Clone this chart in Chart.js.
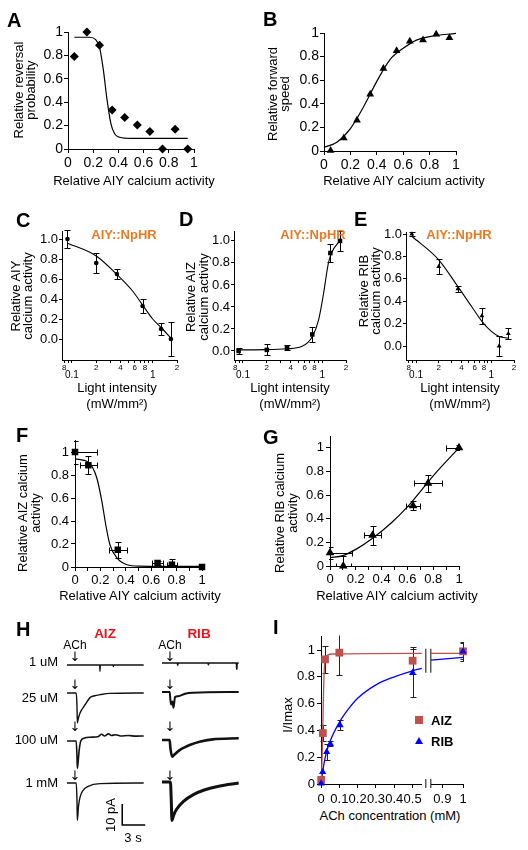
<!DOCTYPE html>
<html>
<head>
<meta charset="utf-8">
<script src="https://cdn.jsdelivr.net/npm/chart.js@4.4.0/dist/chart.umd.min.js"></script>
<style>
  html, body { margin: 0; padding: 0; background: #fff; }
  #fig { position: relative; width: 528px; height: 850px; overflow: hidden;
         font-family: 'Liberation Sans', Arial, Helvetica, sans-serif; color: #000; }
  #fig canvas { position: absolute; }
  .t { position: absolute; white-space: nowrap; line-height: 1; }
</style>
</head>
<body>
<div id="fig"></div>
<script>
// ---------- A / B : behaviour vs. relative AIY calcium activity
const aiyLevels = [0.05, 0.15, 0.25, 0.35, 0.45, 0.55, 0.65, 0.75, 0.85, 0.95];
const reversalProb = [0.79, 1.0, 0.886, 0.334, 0.269, 0.206, 0.149, 0.0, 0.169, 0.0];
const reversalFitX = [0.05, 0.17, 0.22, 0.25, 0.28, 0.31, 0.34, 0.37, 0.41, 0.5, 0.95];
const reversalFitY = [0.955, 0.955, 0.935, 0.87, 0.68, 0.42, 0.22, 0.13, 0.10, 0.09, 0.09];
const forwardSpeed = [0.005, 0.11, 0.26, 0.48, 0.70, 0.85, 0.93, 0.94, 0.99, 0.96];
const forwardFitX = [0, 0.1, 0.2, 0.3, 0.4, 0.5, 0.6, 0.7, 0.8, 1.0];
const forwardFitY = [0.03, 0.077, 0.19, 0.375, 0.59, 0.775, 0.87, 0.94, 0.97, 0.997];

// ---------- C / D / E : AIY::NpHR light intensity series (mW/mm2)
const lightLevels = [0.088, 0.2, 0.36, 0.75, 1.27, 1.68];
const aiyNpHR = [1.0, 0.76, 0.65, 0.33, 0.10, 0.0];
const aiyNpHRErr = [0.09, 0.1, 0.05, 0.07, 0.06, 0.17];
const aiyFitX = [0.087, 0.2, 0.36, 0.57, 0.75, 1.0, 1.29, 1.72];
const aiyFitY = [0.96, 0.83, 0.645, 0.475, 0.34, 0.2, 0.11, 0.0];
const aizNpHR = [0.0, 0.01, 0.03, 0.15, 0.89, 1.0];
const aizNpHRErr = [0.03, 0.05, 0.02, 0.07, 0.08, 0.09];
const aizFitX = [0.088, 0.2, 0.36, 0.55, 0.75, 0.9, 1.04, 1.2, 1.33, 1.66];
const aizFitY = [0.01, 0.012, 0.02, 0.04, 0.13, 0.28, 0.52, 0.80, 0.90, 1.0];
const ribNpHR = [1.0, 0.71, 0.51, 0.27, 0.0, 0.11];
const ribNpHRErr = [0.02, 0.07, 0.03, 0.07, 0.09, 0.05];
const ribFitX = [0.088, 0.2, 0.36, 0.55, 0.75, 1.0, 1.27, 1.68];
const ribFitY = [0.98, 0.77, 0.53, 0.35, 0.22, 0.13, 0.085, 0.07];
const lightTicks = [0.08, 0.09, 0.1, 0.2, 0.3, 0.4, 0.5, 0.6, 0.7, 0.8, 0.9, 1, 2];
const lightTickText = ['8', '', '0.1', '2', '', '4', '', '6', '', '8', '', '1', '2'];

// ---------- F / G : downstream activity vs. AIY activity
const aiyActF = [0, 0.105, 0.337, 0.65, 0.763, 1.0];
const aiyActFErr = [0.17, 0.066, 0.07, 0.045, 0.04, 0];
const aizAct = [1.0, 0.885, 0.15, 0.035, 0.02, 0.0];
const aizActErr = [0.1, 0.08, 0.07, 0.02, 0.05, 0];
const aizActFitX = [0, 0.105, 0.17, 0.21, 0.245, 0.276, 0.33, 0.41, 0.51, 1.0];
const aizActFitY = [0.94, 0.91, 0.78, 0.58, 0.35, 0.19, 0.08, 0.02, 0.008, 0.005];
const aiyActG = [0, 0.103, 0.33, 0.644, 0.76, 1.0];
const aiyActGErr = [0.167, 0.06, 0.067, 0.055, 0.107, 0.103];
const ribAct = [0.113, 0.0, 0.26, 0.51, 0.70, 1.0];
const ribActErr = [0.05, 0.085, 0.08, 0.04, 0.07, 0.02];
const ribActFitX = [0, 0.1, 0.21, 0.33, 0.47, 0.6, 0.7, 0.83, 1.0];
const ribActFitY = [0.07, 0.088, 0.147, 0.235, 0.36, 0.50, 0.63, 0.80, 1.0];

// ---------- H : ACh evoked currents (time s, current pA)
const aiz1uM_t = [0, 4.25, 4.3, 4.35, 6.0, 6.05, 6.1, 10];
const aiz1uM_i = [0, 0, -3, 0, 0, -0.8, 0, 0];
const aiz25uM_t = [0, 1.2, 1.3, 1.35, 1.45, 1.7, 2.0, 2.35, 3.0, 3.6, 4.3, 5.6, 10];
const aiz25uM_i = [0, 0, -6, -14.3, -12.5, -9.5, -7.5, -5.6, -2.2, -1.3, -0.8, -0.2, 0];
const aiz100uM_t = [0, 1.2, 1.3, 1.35, 1.45, 1.6, 1.8, 2.2, 3.0, 4.0, 4.5, 4.9, 5.4, 5.8, 6.3, 7.0, 8.0, 9.0, 10];
const aiz100uM_i = [0, 0, -7, -13, -10, -4, 0, 1.3, 1.8, 2.0, 3.2, 2.4, 3.4, 2.6, 3.0, 2.4, 2.6, 2.3, 2.4];
const aiz1mM_t = [0, 1.2, 1.3, 1.35, 1.5, 1.7, 2.1, 2.75, 4.3, 10];
const aiz1mM_i = [0, 0, -8, -17.8, -11, -6.7, -3.5, -1.6, -0.3, 0];
const rib1uM_t = [0, 2, 2.05, 2.1, 4, 6, 6.05, 6.1, 8, 9.7, 9.75, 9.8, 10];
const rib1uM_i = [0, 0, -1, 0, 0, 0, -0.8, 0, 0, 0, -3, 0, 0];
const rib25uM_t = [0, 1.0, 1.1, 1.2, 1.35, 1.5, 1.7, 2.1, 3.0, 4, 10];
const rib25uM_i = [0, 0, -4, -6, -4.5, -7.5, -2.4, -2.0, -0.8, -0.3, 0];
const rib100uM_t = [0, 1.0, 1.1, 1.35, 1.6, 2.3, 3.0, 3.6, 4.9, 6.6, 10];
const rib100uM_i = [0, 0, -4, -8, -7, -4.8, -3.4, -2.4, -0.8, 0.3, 0.8];
const rib1mM_t = [0, 1.1, 1.2, 1.3, 1.5, 1.9, 2.8, 4.1, 5.6, 7.4, 10];
const rib1mM_i = [0, 0, -8, -18.3, -16, -13, -9.2, -6, -3.7, -2, -0.5];
const scaleBarT = [7.2, 7.2, 10.2];   // 3 s
const scaleBarI = [-10, -20, -20];    // 10 pA

// ---------- I : dose response (ACh mM, I/Imax)
const aizConc = [0.001, 0.01, 0.022, 0.1, 0.5, 1.0];
const aizIrel = [0.03, 0.38, 0.93, 0.98, 0.92, 0.99];
const aizIrelErr = [0.03, 0.06, 0.10, 0.17, 0.10, 0.06];
const ribConc = [0.001, 0.009, 0.031, 0.051, 0.104, 0.5, 1.0];
const ribIrel = [0.005, 0.09, 0.24, 0.30, 0.44, 0.83, 0.99];
const ribIrelErr = [0, 0, 0.06, 0.02, 0.04, 0.18, 0.07];
const aizDoseFitX = [0, 0.004, 0.008, 0.011, 0.015, 0.02, 0.03, 0.06, 0.55, 0.845, 1.0];
const aizDoseFitY = [0, 0.1, 0.3, 0.5, 0.75, 0.9, 0.955, 0.97, 0.975, 0.975, 0.975];
const ribDoseFitX = [0, 0.01, 0.025, 0.05, 0.1, 0.15, 0.2, 0.3, 0.4, 0.5, 0.55, 0.845, 1.0];
const ribDoseFitY = [0, 0.1, 0.21, 0.32, 0.46, 0.56, 0.64, 0.74, 0.80, 0.845, 0.862, 0.925, 0.945];

// ------------------------------------------------------------------
Chart.defaults.font.family = "'Liberation Sans', Arial, Helvetica, sans-serif";
Chart.defaults.color = '#000';
Chart.defaults.animation = false;
Chart.defaults.responsive = false;
Chart.defaults.events = [];
Chart.defaults.plugins.legend.display = false;
Chart.defaults.plugins.tooltip.enabled = false;

// error bars drawn under the markers, clipped to the plot area
Chart.register({
  id: 'errorBars',
  beforeDatasetsDraw(chart) {
    const { ctx, chartArea: a } = chart;
    ctx.save();
    ctx.beginPath();
    ctx.rect(a.left - 1, a.top - 1, a.right - a.left + 2, a.bottom - a.top + 2);
    ctx.clip();
    chart.data.datasets.forEach((ds, di) => {
      if (!ds.errY && !ds.errX) return;
      const meta = chart.getDatasetMeta(di);
      const xs = chart.scales[meta.xAxisID], ys = chart.scales[meta.yAxisID];
      const cap = ds.errCap || 3;
      ctx.strokeStyle = ds.errColor || '#000';
      ctx.lineWidth = 1;
      ctx.beginPath();
      meta.data.forEach((el, i) => {
        const p = ds.data[i];
        const px = Math.round(el.x) + 0.5, py = Math.round(el.y) + 0.5;
        const ey = ds.errY ? ds.errY[i] : 0, ex = ds.errX ? ds.errX[i] : 0;
        if (ey) {
          const y1 = Math.round(ys.getPixelForValue(p.y - ey)) + 0.5;
          const y2 = Math.round(ys.getPixelForValue(p.y + ey)) + 0.5;
          ctx.moveTo(px, y1); ctx.lineTo(px, y2);
          ctx.moveTo(px - cap, y1); ctx.lineTo(px + cap, y1);
          ctx.moveTo(px - cap, y2); ctx.lineTo(px + cap, y2);
        }
        if (ex) {
          const x1 = Math.round(xs.getPixelForValue(p.x - ex)) + 0.5;
          const x2 = Math.round(xs.getPixelForValue(p.x + ex)) + 0.5;
          ctx.moveTo(x1, py); ctx.lineTo(x2, py);
          ctx.moveTo(x1, py - cap); ctx.lineTo(x1, py + cap);
          ctx.moveTo(x2, py - cap); ctx.lineTo(x2, py + cap);
        }
      });
      ctx.stroke();
    });
    ctx.restore();
  }
});

const fig = document.getElementById('fig');

// put a chart so that its plot area lands on `area` (page px)
function place(box, area, cfg, plugins) {
  const cv = document.createElement('canvas');
  cv.width = box.w; cv.height = box.h;
  cv.style.left = box.x + 'px'; cv.style.top = box.y + 'px';
  fig.appendChild(cv);
  const sx = cfg.options.scales.x, sy = cfg.options.scales.y;
  const showX = sx.display !== false, showY = sy.display !== false;
  cfg.options.layout = { padding: {
    left: showY ? 0 : area.l - box.x,
    top: area.t - box.y,
    right: box.x + box.w - area.r,
    bottom: showX ? 0 : box.y + box.h - area.b } };
  if (showX) sx.afterFit = s => { s.height = box.y + box.h - area.b; };
  if (showY) sy.afterFit = s => { s.width = area.l - box.x; };
  cfg.plugins = plugins || [];
  return new Chart(cv, cfg);
}

const fmt = v => String(+v.toFixed(2));
function axis(o) {
  const ax = {
    type: o.type || 'linear', min: o.min, max: o.max,
    border: { color: '#000', width: 1 },
    grid: { drawOnChartArea: false, color: '#000', tickLength: o.tl || 4, lineWidth: 1 },
    ticks: { color: '#000', font: o.font || { size: 14 }, padding: o.pad === undefined ? 2 : o.pad,
             autoSkip: false, maxRotation: 0, minRotation: 0, callback: o.cb || fmt },
    title: { display: false }
  };
  if (o.ticks) ax.afterBuildTicks = s => { s.ticks = o.ticks.map(v => ({ value: v })); };
  return ax;
}

const pts = (xs, ys) => xs.map((x, i) => ({ x, y: ys[i] }));
const ptsIn = (xs, ys, lo, hi) => pts(xs, ys).filter(p => p.x >= lo && p.x <= hi);
const fit = (data, color, w) => ({ data, showLine: true, pointRadius: 0, borderColor: color || '#000',
  borderWidth: w || 1.2, cubicInterpolationMode: 'monotone', clip: false, order: 3 });
const marks = (data, style, r, extra) => Object.assign({ data, pointStyle: style, pointRadius: r,
  backgroundColor: '#000', borderColor: '#000', borderWidth: 0, clip: false, order: 0 }, extra || {});

const unitTicks = [0, 0.2, 0.4, 0.6, 0.8, 1];
const tenthTicks = [0, 0.1, 0.2, 0.3, 0.4, 0.5, 0.6, 0.7, 0.8, 0.9, 1];
const evenLabel = v => (Math.round(v * 10) % 2 === 0 ? fmt(v) : '');

// ---- A
place({ x: 0, y: 20, w: 205, h: 172 }, { l: 68, t: 32, r: 194, b: 149 }, {
  type: 'scatter',
  data: { datasets: [
    fit(pts(reversalFitX, reversalFitY)),
    marks(pts(aiyLevels, reversalProb), 'rectRot', 4.5)
  ] },
  options: { scales: {
    x: axis({ min: 0, max: 1, ticks: unitTicks }),
    y: axis({ min: 0, max: 1, ticks: unitTicks, pad: 1 })
  } }
});

// ---- B
place({ x: 264, y: 20, w: 210, h: 172 }, { l: 324, t: 33, r: 456, b: 151 }, {
  type: 'scatter',
  data: { datasets: [
    fit(pts(forwardFitX, forwardFitY)),
    marks(pts(aiyLevels, forwardSpeed), 'triangle', 4.5)
  ] },
  options: { scales: {
    x: axis({ min: 0, max: 1, ticks: unitTicks }),
    y: axis({ min: 0, max: 1, ticks: unitTicks, pad: 1 })
  } }
});

// ---- C / D / E (log light axis)
function lightAxis(min, max) {
  return axis({
    type: 'logarithmic', min, max, ticks: lightTicks, tl: 3, pad: 0,
    cb: (v, i) => (v === 0.1 || v === 1) ? ['', lightTickText[i]] : lightTickText[i],
    font: c => (c.tick && (c.tick.value === 0.1 || c.tick.value === 1)) ? { size: 10, lineHeight: 0.8 } : { size: 8, lineHeight: 1.2 }
  });
}
function npHR(box, area, ymin, ymax, xmin, xs, ys, errs, fx, fy, style, r) {
  place(box, area, {
    type: 'scatter',
    data: { datasets: [
      fit(pts(fx, fy), '#000', 1.1),
      marks(pts(xs, ys), style, r, { errY: errs, errCap: 3 })
    ] },
    options: { scales: {
      x: lightAxis(xmin, 2),
      y: axis({ min: ymin, max: ymax, ticks: unitTicks, tl: 3, pad: 1, font: { size: 13 }, cb: v => v.toFixed(1) })
    } }
  });
}
npHR({ x: 0, y: 215, w: 190, h: 200 }, { l: 62, t: 231, r: 177, b: 360 }, -0.21, 1.08, 0.0753,
  lightLevels, aiyNpHR, aiyNpHRErr, aiyFitX, aiyFitY, 'circle', 2.3);
npHR({ x: 175, y: 215, w: 180, h: 200 }, { l: 234, t: 231, r: 346, b: 360 }, -0.082, 1.09, 0.077,
  lightLevels, aizNpHR, aizNpHRErr, aizFitX, aizFitY, 'rect', 3.2);
npHR({ x: 350, y: 215, w: 178, h: 200 }, { l: 406, t: 232, r: 514, b: 360 }, -0.125, 1.018, 0.0736,
  lightLevels, ribNpHR, ribNpHRErr, ribFitX, ribFitY, 'triangle', 2.8);

// ---- F / G
function transfer(box, area, xs, xerr, ys, yerr, fx, fy, style, r) {
  place(box, area, {
    type: 'scatter',
    data: { datasets: [
      fit(pts(fx, fy)),
      marks(pts(xs, ys), style, r, { errY: yerr, errX: xerr, errCap: 3 })
    ] },
    options: { scales: {
      x: axis({ min: 0, max: 1, ticks: tenthTicks, cb: evenLabel, font: { size: 13 }, pad: 2 }),
      y: axis({ min: 0, max: 1.1, ticks: unitTicks, font: { size: 13 }, pad: 2 })
    } }
  });
}
transfer({ x: 0, y: 425, w: 215, h: 180 }, { l: 75, t: 440.5, r: 202, b: 567 },
  aiyActF, aiyActFErr, aizAct, aizActErr, aizActFitX, aizActFitY, 'rect', 4.6);
transfer({ x: 264, y: 425, w: 210, h: 180 }, { l: 330, t: 436, r: 459, b: 566 },
  aiyActG, aiyActGErr, ribAct, ribActErr, ribActFitX, ribActFitY, 'triangle', 5);

// ---- H traces
const PX_PER_S = 7.67, PX_PER_PA = 2.1;
function trace(left, baseY, t, cur, bw, extra) {
  const w = 80, h = 56, top = Math.round(baseY - 4 * PX_PER_PA);
  const yMax = (baseY - top) / PX_PER_PA, yMin = yMax - h / PX_PER_PA;
  const ds = [{ data: pts(t, cur), showLine: true, pointRadius: 0, borderColor: '#111', borderWidth: bw,
                borderJoinStyle: 'round', cubicInterpolationMode: 'monotone', clip: false }];
  if (extra) ds.push(extra);
  place({ x: left, y: top, w, h }, { l: left, t: top, r: left + w, b: top + h }, {
    type: 'scatter', data: { datasets: ds },
    options: { scales: {
      x: { type: 'linear', display: false, min: 0, max: w / PX_PER_S },
      y: { type: 'linear', display: false, min: yMin, max: yMax }
    } }
  });
}
const scaleBar = { data: pts(scaleBarT, scaleBarI), showLine: true, pointRadius: 0, borderColor: '#000',
                   borderWidth: 1.5, tension: 0, clip: false };
trace(67, 665, aiz1uM_t, aiz1uM_i, 1.3);
trace(67, 693, aiz25uM_t, aiz25uM_i, 1.4);
trace(67, 741, aiz100uM_t, aiz100uM_i, 1.6);
trace(67, 783, aiz1mM_t, aiz1mM_i, 1.4, scaleBar);
trace(162, 663, rib1uM_t, rib1uM_i, 1.6);
trace(162, 692, rib25uM_t, rib25uM_i, 2);
trace(162, 740, rib100uM_t, rib100uM_i, 2.6);
trace(162, 782, rib1mM_t, rib1mM_i, 3);

// ---- I dose response, broken x axis (0-0.55 | 0.845-1)
const breakMarks = {
  id: 'breakMarks',
  afterDraw(chart) {
    const { ctx, chartArea: a, scales: { y } } = chart;
    ctx.save();
    ctx.strokeStyle = '#333'; ctx.lineWidth = 1.2;
    [a.right + 4, a.right + 9].forEach(x => {
      ctx.beginPath();
      ctx.moveTo(x, y.getPixelForValue(1.01)); ctx.lineTo(x, y.getPixelForValue(0.83));
      ctx.moveTo(x, a.bottom - 5); ctx.lineTo(x, a.bottom + 4);
      ctx.stroke();
    });
    ctx.restore();
  }
};
const RED = '#c0504d', BLUE = '#0000ff';
function doseSets(lo, hi) {
  return [
    fit(ptsIn(aizDoseFitX, aizDoseFitY, lo, hi), RED, 1.3),
    fit(ptsIn(ribDoseFitX, ribDoseFitY, lo, hi), BLUE, 1.3),
    marks(ptsIn(aizConc, aizIrel, lo, hi), 'rect', 5.5, { backgroundColor: RED, borderColor: RED, order: 1,
      errY: aizIrelErr.filter((e, i) => aizConc[i] >= lo && aizConc[i] <= hi), errColor: '#222', errCap: 3 }),
    marks(ptsIn(ribConc, ribIrel, lo, hi), 'triangle', 4.2, { backgroundColor: BLUE, borderColor: BLUE, order: 0,
      errY: ribIrelErr.filter((e, i) => ribConc[i] >= lo && ribConc[i] <= hi), errColor: '#222', errCap: 3 })
  ];
}
place({ x: 264, y: 625, w: 175, h: 180 }, { l: 321, t: 636.6, r: 421.8, b: 784 }, {
  type: 'scatter',
  data: { datasets: doseSets(0, 0.55) },
  options: { scales: {
    x: axis({ min: 0, max: 0.55, ticks: [0, 0.1, 0.2, 0.3, 0.4, 0.5], font: { size: 13 }, pad: 4 }),
    y: axis({ min: 0, max: 1.1, ticks: unitTicks, font: { size: 13 }, pad: 2 })
  } }
}, [breakMarks]);
place({ x: 420, y: 625, w: 60, h: 180 }, { l: 431, t: 636.6, r: 463, b: 784 }, {
  type: 'scatter',
  data: { datasets: doseSets(0.845, 1.0) },
  options: { scales: {
    x: axis({ min: 0.845, max: 1.0, ticks: [0.9, 1.0], font: { size: 13 }, pad: 4 }),
    y: { type: 'linear', display: false, min: 0, max: 1.1 }
  } }
});

// ---- text overlays
function txt(s, x, y, css, anchor) {
  const d = document.createElement('div');
  d.className = 't';
  d.textContent = s;
  d.style.left = x + 'px'; d.style.top = y + 'px';
  Object.assign(d.style, css || {});
  const tr = { c: 'translate(-50%,-50%)', r: 'translate(-100%,-50%)', l: 'translate(0,-50%)', tl: 'none' }[anchor || 'c'];
  d.style.transform = (css && css.transform) ? tr + ' ' + css.transform : tr;
  fig.appendChild(d);
  return d;
}
const T13 = { fontSize: '13px' };
const ROT = { fontSize: '13px', transform: 'rotate(-90deg)' };
// axis titles: [text, centre x, centre y]
[['Relative AIY calcium activity', 134, 180], ['Relative AIY calcium activity', 404, 180],
 ['Light intensity', 117, 387], ['(mW/mm²)', 117, 403],
 ['Light intensity', 290, 387], ['(mW/mm²)', 290, 403],
 ['Light intensity', 460, 387], ['(mW/mm²)', 460, 403],
 ['Relative AIY calcium activity', 140, 595], ['Relative AIY calcium activity', 397, 595],
 ['ACh concentration (mM)', 390, 815]]
  .forEach(([s, x, y]) => txt(s, x, y, T13));
[['Relative reversal', 18, 90], ['probability', 30, 90],
 ['Relative forward', 272, 94], ['speed', 284, 94],
 ['Relative AIY', 15, 296], ['calcium activity', 27, 296],
 ['Relative AIZ', 190, 297], ['calcium activity', 203, 297],
 ['Relative RIB', 363, 291], ['calcium activity', 375, 291],
 ['Relative AIZ calcium', 22, 513], ['activity', 35, 513],
 ['Relative RIB calcium', 279, 513], ['activity', 292, 513],
 ['I/Imax', 287, 715]]
  .forEach(([s, x, y]) => txt(s, x, y, ROT));

const letter = { fontSize: '20px', fontWeight: 'bold' };
[['A', 8, 13], ['B', 264, 12], ['C', 17, 213], ['D', 180, 212], ['E', 355, 212],
 ['F', 17, 428], ['G', 264, 430], ['H', 17, 622], ['I', 274, 620]]
  .forEach(([s, x, y]) => txt(s, x - 1, y - 2.6, letter, 'tl'));

const orange = { fontSize: '13px', fontWeight: 'bold', color: '#ea7a24' };
txt('AIY::NpHR', 124, 234, orange);
txt('AIY::NpHR', 313, 234, orange);
txt('AIY::NpHR', 459, 234, orange);

const red = { fontSize: '13.5px', fontWeight: 'bold', color: '#e8141c' };
txt('AIZ', 105, 634, red);
txt('RIB', 199, 634, red);
txt('ACh', 75, 645, { fontSize: '12px' });
txt('ACh', 170, 645, { fontSize: '12px' });
const arrow = { fontSize: '13px', fontFamily: "'DejaVu Sans', sans-serif" };
[656, 684, 726, 775].forEach(y => { txt('↓', 75, y, arrow); txt('↓', 170, y, arrow); });
[['1 uM', 661], ['25 uM', 697], ['100 uM', 739], ['1 mM', 782]]
  .forEach(([s, y]) => txt(s, 58, y, T13, 'r'));
txt('10 pA', 110, 815, ROT);
txt('3 s', 133, 837, T13);

// I legend
const sq = document.createElement('div');
Object.assign(sq.style, { position: 'absolute', left: '415px', top: '716px', width: '8px', height: '8px', background: RED });
fig.appendChild(sq);
const tri = document.createElement('div');
Object.assign(tri.style, { position: 'absolute', left: '415px', top: '737px', width: 0, height: 0,
  borderLeft: '4px solid transparent', borderRight: '4px solid transparent', borderBottom: '7px solid ' + BLUE });
fig.appendChild(tri);
txt('AIZ', 431, 720, { fontSize: '13px', fontWeight: 'bold' }, 'l');
txt('RIB', 431, 741, { fontSize: '13px', fontWeight: 'bold' }, 'l');
</script>
</body>
</html>
